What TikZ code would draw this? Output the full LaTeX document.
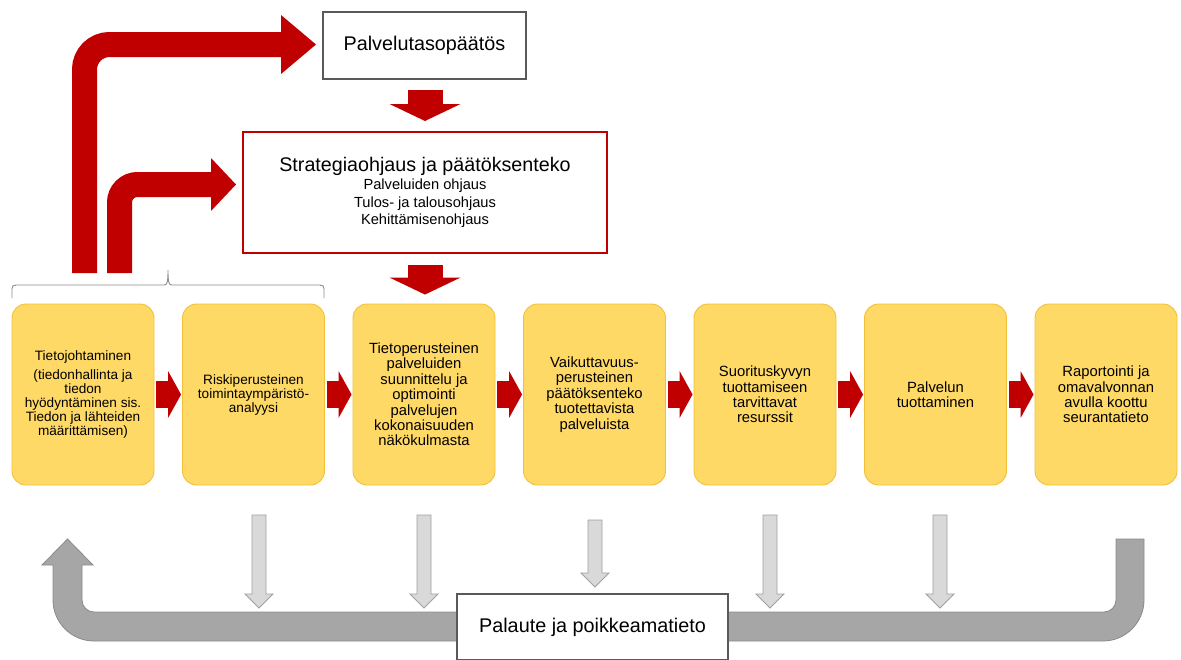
\documentclass[tikz,border=0pt]{standalone}
\usepackage{fontspec}
\setmainfont{Liberation Sans}
\usetikzlibrary{arrows.meta}
\definecolor{redA}{HTML}{C00000}
\definecolor{yelF}{HTML}{FFD966}
\definecolor{yelD}{HTML}{F2C038}
\definecolor{grayU}{HTML}{A6A6A6}
\definecolor{grayUD}{HTML}{8A8A8A}
\definecolor{grayL}{HTML}{D9D9D9}
\definecolor{grayLD}{HTML}{A0A0A0}
\definecolor{boxD}{HTML}{595959}
\definecolor{braceC}{HTML}{8C8C8C}
\begin{document}
\begin{tikzpicture}[x=1pt,y=-1pt,
  stepbox/.style={draw=yelD, line width=0.9pt, fill=yelF, rounded corners=14pt,
    minimum width=142pt, minimum height=181pt, align=center, inner sep=0pt,
    font=\fontsize{14.8}{15.4}\selectfont},
  smallbox/.style={stepbox, font=\fontsize{13.6}{14}\selectfont},
  redflow/.style={draw=redA, line width=27pt, -{Triangle[width=47pt,length=13pt,line width=0pt]}},
  reddown/.style={draw=redA, line width=35pt, -{Triangle[width=71pt,length=17pt,line width=0pt]}},
  grayarrow/.style={draw=grayLD, fill=grayL, line width=0.8pt},
  plainbox/.style={draw=boxD, line width=2pt, fill=white, font=\fontsize{19.8}{22}\selectfont}
]
\useasboundingbox (0,0) rectangle (1181,659);

% top boxes
\node[plainbox, minimum width=203pt, minimum height=67pt] (pal) at (424.5,45.5) {Palvelutasopäätös};
\node[draw=redA, line width=2pt, fill=white, minimum width=364pt, minimum height=121pt, align=center,
  font=\fontsize{14.65}{17.5}\selectfont] (strat) at (425,192.5)
  {{\fontsize{19.7}{22}\selectfont Strategiaohjaus ja päätöksenteko}\\[1pt]Palveluiden ohjaus\\Tulos- ja talousohjaus\\Kehittämisenohjaus};

% process boxes
\node[smallbox] (b1) at (83,394.5) {Tietojohtaminen\\[5pt](tiedonhallinta ja\\tiedon\\hyödyntäminen sis.\\Tiedon ja lähteiden\\määrittämisen)};
\node[smallbox] (b2) at (253.5,394.5) {Riskiperusteinen\\toimintaympäristö-\\analyysi};
\node[stepbox] (b3) at (424,394.5) {Tietoperusteinen\\palveluiden\\suunnittelu ja\\optimointi\\palvelujen\\kokonaisuuden\\näkökulmasta};
\node[stepbox] (b4) at (594.5,394.5) {Vaikuttavuus-\\perusteinen\\päätöksenteko\\tuotettavista\\palveluista};
\node[stepbox] (b5) at (765,394.5) {Suorituskyvyn\\tuottamiseen\\tarvittavat\\resurssit};
\node[stepbox] (b6) at (935.5,394.5) {Palvelun\\tuottaminen};
\node[stepbox] (b7) at (1106,394.5) {Raportointi ja\\omavalvonnan\\avulla koottu\\seurantatieto};

% red flow arrows
\foreach \a/\b in {b1/b2,b2/b3,b3/b4,b4/b5,b5/b6,b6/b7}
  \draw[redflow] ([xshift=2pt]\a.east) -- ([xshift=-1pt]\b.west);

\draw[reddown] ([yshift=-10pt]strat.north |- pal.south) -- ([yshift=10pt]strat.north);
\draw[reddown] ([yshift=-11pt]strat.south) -- ([yshift=9pt]strat.south |- b3.north);

% brace
\draw[braceC, line width=0.9pt] (12,298) -- (12,289) .. controls (12,286) and (13,285) .. (16,285)
  -- (164,285) .. controls (167,285) and (168,283) .. (168,270)
  .. controls (168,283) and (169,285) .. (172,285) -- (320,285)
  .. controls (323,285) and (324,286) .. (324,289) -- (324,298);

% red bent arrows
\coordinate (src1) at (84.5,273);
\coordinate (src2) at (119.5,273);
\draw[draw=redA, line width=25pt, rounded corners=25pt, -{Triangle[width=59pt,length=35pt,line width=0pt]}]
  (src1) |- ([xshift=-6pt,yshift=1pt]pal.west);
\draw[draw=redA, line width=25pt, rounded corners=18pt, -{Triangle[width=53pt,length=25pt,line width=0pt]}]
  (src2) |- ([xshift=-6pt,yshift=8pt]strat.west);

% feedback U arrow
\draw[draw=grayUD, fill=grayU, line width=0.8pt]
  (1116,539) -- (1144,539) -- (1144,600) .. controls (1144,622.6) and (1125.6,641) .. (1103,641)
  -- (94,641) .. controls (71.4,641) and (53,622.6) .. (53,600)
  -- (53,565) -- (42,565) -- (67.5,539) -- (93,565) -- (82,565)
  -- (82,600) .. controls (82,606.6) and (87.4,612) .. (94,612)
  -- (1104,612) .. controls (1110.6,612) and (1116,606.6) .. (1116,600) -- cycle;

% gray down arrows
\foreach \x/\t/\bb in {259/515/594, 424/515/594, 595/520/573, 770/515/594, 940/515/594}
  \draw[grayarrow] (\x-7,\t) -- (\x+7,\t) -- (\x+7,\bb) -- (\x+14,\bb) -- (\x,\bb+14)
    -- (\x-14,\bb) -- (\x-7,\bb) -- cycle;

\node[plainbox, minimum width=271pt, minimum height=66pt] (fb) at (592.5,627) {Palaute ja poikkeamatieto};
\end{tikzpicture}
\end{document}
